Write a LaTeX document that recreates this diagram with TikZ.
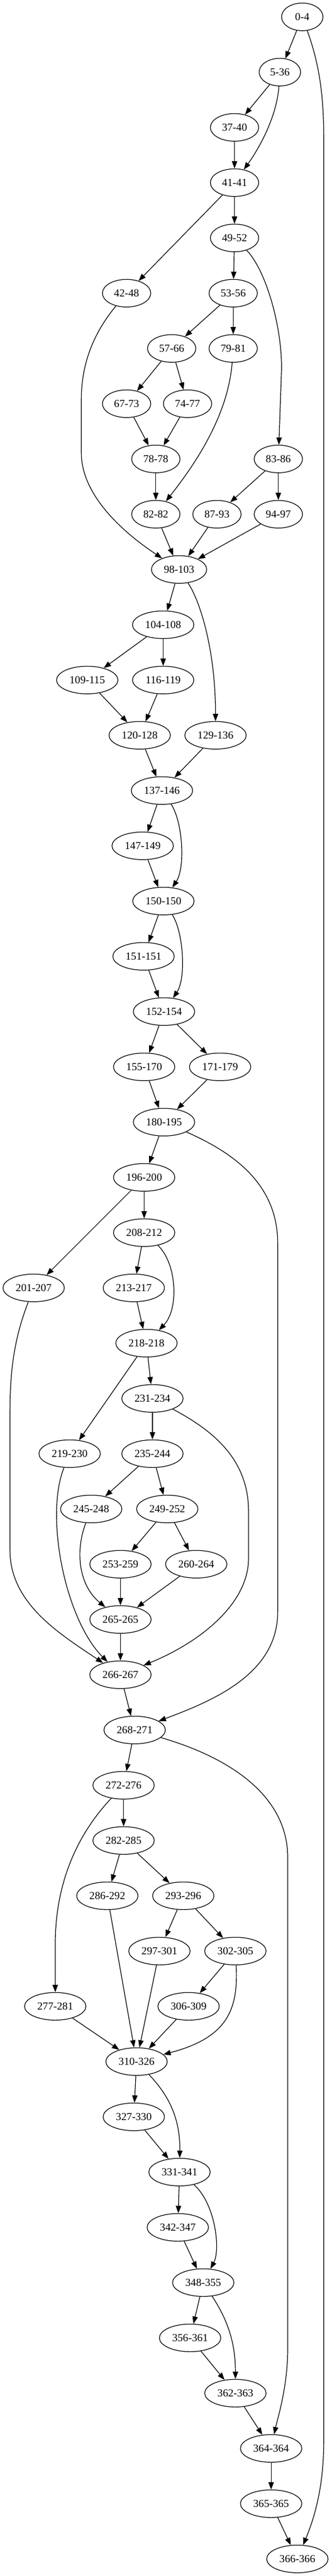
\documentclass[tikz,border=0pt]{standalone}
\usepackage{fontspec}
\setmainfont{Liberation Serif}
\usetikzlibrary{shapes.geometric,arrows.meta}
\tikzset{
  gnode/.style={draw, ellipse, line width=0.9pt, minimum height=36pt, inner sep=0pt, font=\fontsize{14pt}{16pt}\selectfont},
  wa/.style={gnode, minimum width=54pt},
  wb/.style={gnode, minimum width=63pt},
  wc/.style={gnode, minimum width=72pt},
  wd/.style={gnode, minimum width=80pt},
  edge/.style={line width=0.9pt, -{Triangle[length=9.5pt,width=7pt]}},
}
\begin{document}
\begin{tikzpicture}[x=1pt,y=-1pt]
\useasboundingbox (0,0) rectangle (432.75,3356.25);
% nodes
\node[wa] (n0) at (394,22) {0-4};
\node[wa] (n5) at (364.8,94) {5-36};
\node[wb] (n37) at (305.7,166) {37-40};
\node[wb] (n41) at (305.7,238) {41-41};
\node[wb] (n49) at (305.7,310) {49-52};
\node[wb] (n42) at (165,382) {42-48};
\node[wb] (n53) at (304,382) {53-56};
\node[wb] (n57) at (223.8,454) {57-66};
\node[wb] (n79) at (304,454) {79-81};
\node[wb] (n67) at (165,526) {67-73};
\node[wb] (n74) at (244.5,526) {74-77};
\node[wb] (n78) at (203.1,598) {78-78};
\node[wb] (n83) at (362.8,598) {83-86};
\node[wb] (n82) at (203.1,670) {82-82};
\node[wb] (n87) at (282.8,670) {87-93};
\node[wb] (n94) at (362.8,670) {94-97};
\node[wc] (n98) at (233.4,742) {98-103};
\node[wd] (n104) at (212.7,814) {104-108};
\node[wd] (n109) at (113.7,886) {109-115};
\node[wd] (n116) at (212.7,886) {116-119};
\node[wd] (n120) at (182.1,958) {120-128};
\node[wd] (n129) at (280.9,958) {129-136};
\node[wd] (n137) at (211.1,1030) {137-146};
\node[wd] (n147) at (186,1102) {147-149};
\node[wd] (n150) at (213,1174) {150-150};
\node[wd] (n151) at (187.1,1246) {151-151};
\node[wd] (n152) at (213.8,1318) {152-154};
\node[wd] (n155) at (187.9,1390) {155-170};
\node[wd] (n171) at (286.9,1390) {171-179};
\node[wd] (n180) at (213.8,1462) {180-195};
\node[wd] (n196) at (187.9,1534) {196-200};
\node[wd] (n208) at (187.9,1606) {208-212};
\node[wd] (n201) at (43.9,1678) {201-207};
\node[wd] (n213) at (174.4,1678) {213-217};
\node[wd] (n218) at (190.9,1750) {218-218};
\node[wd] (n231) at (198.7,1822) {231-234};
\node[wd] (n219) at (90.8,1894) {219-230};
\node[wd] (n235) at (198.7,1894) {235-244};
\node[wd] (n245) at (118.9,1966) {245-248};
\node[wd] (n249) at (218,1966) {249-252};
\node[wd] (n253) at (157,2038) {253-259};
\node[wd] (n260) at (255.8,2038) {260-264};
\node[wd] (n265) at (157,2110) {265-265};
\node[wd] (n266) at (157,2182) {266-267};
\node[wd] (n268) at (175.5,2254) {268-271};
\node[wd] (n272) at (161.1,2326) {272-276};
\node[wd] (n282) at (161.1,2398) {282-285};
\node[wd] (n286) at (139.9,2470) {286-292};
\node[wd] (n293) at (238.9,2470) {293-296};
\node[wd] (n297) at (207.8,2542) {297-301};
\node[wd] (n302) at (306.8,2542) {302-305};
\node[wd] (n277) at (72,2614) {277-281};
\node[wd] (n306) at (245.8,2614) {306-309};
\node[wd] (n310) at (178,2686) {310-326};
\node[wd] (n327) at (174.4,2758) {327-330};
\node[wd] (n331) at (234,2830) {331-341};
\node[wd] (n342) at (231.8,2902) {342-347};
\node[wd] (n348) at (264.9,2974) {348-355};
\node[wd] (n356) at (247.8,3046) {356-361};
\node[wd] (n362) at (306.8,3118) {362-363};
\node[wd] (n364) at (353.4,3190) {364-364};
\node[wd] (n365) at (353.4,3262) {365-365};
\node[wd] (n366) at (387.6,3334) {366-366};
% straight edges
\foreach \a/\b in {n0/n5, n5/n37, n37/n41, n41/n42, n41/n49, n49/n53, n53/n57, n53/n79,
  n57/n67, n57/n74, n67/n78, n74/n78, n78/n82, n83/n87, n83/n94, n82/n98, n87/n98, n94/n98,
  n98/n104, n104/n109, n104/n116, n109/n120, n116/n120, n120/n137, n129/n137, n137/n147,
  n147/n150, n150/n151, n151/n152, n152/n155, n152/n171, n155/n180, n171/n180, n180/n196,
  n196/n201, n196/n208, n208/n213, n213/n218, n218/n219, n218/n231, n231/n235, n235/n245,
  n235/n249, n249/n253, n249/n260, n253/n265, n260/n265, n265/n266, n266/n268, n268/n272,
  n272/n282, n282/n286, n282/n293, n293/n297, n293/n302, n302/n306, n277/n310, n286/n310,
  n297/n310, n306/n310, n310/n327, n327/n331, n331/n342, n342/n348, n348/n356, n356/n362,
  n362/n364, n364/n365, n365/n366}
  \draw[edge] (\a) -- (\b);
% curved edges
\draw[edge] (n0) .. controls (415,80) and (422,120) .. (422,180) -- (422,3180) .. controls (422,3240) and (410,3280) .. (n366);
\draw[edge] (n5) .. controls (361,150) and (340,190) .. (n41);
\draw[edge] (n49) .. controls (345,350) and (367,420) .. (367,480) -- (n83);
\draw[edge] (n79) .. controls (297,545) and (250,610) .. (n82);
\draw[edge] (n42) .. controls (125,430) and (106,470) .. (106,520) -- (106,590) .. controls (106,650) and (170,700) .. (n98);
\draw[edge] (n98) .. controls (262,785) and (281,850) .. (n129);
\draw[edge] (n137) .. controls (238,1070) and (242,1130) .. (n150);
\draw[edge] (n150) .. controls (239,1214) and (243,1274) .. (n152);
\draw[edge] (n208) .. controls (230,1645) and (234,1705) .. (n218);
\draw[edge] (n180) .. controls (300,1500) and (362,1540) .. (362,1620) -- (362,2100) .. controls (362,2180) and (280,2215) .. (n268);
\draw[edge] (n201) .. controls (20,1740) and (13,1780) .. (13,1840) -- (13,2020) .. controls (13,2090) and (80,2130) .. (n266);
\draw[edge] (n219) .. controls (58,1975) and (85,2110) .. (n266);
\draw[edge] (n231) .. controls (290,1870) and (324,1910) .. (324,1970) -- (324,2030) .. controls (324,2090) and (260,2140) .. (n266);
\draw[edge] (n245) .. controls (98,2020) and (102,2065) .. (n265);
\draw[edge] (n268) .. controls (300,2290) and (375,2340) .. (375,2420) -- (375,3060) .. controls (375,3110) and (362,3150) .. (n364);
\draw[edge] (n272) .. controls (110,2380) and (73,2440) .. (72,2530) -- (n277);
\draw[edge] (n302) .. controls (311,2620) and (295,2655) .. (n310);
\draw[edge] (n310) .. controls (220,2730) and (235,2760) .. (n331);
\draw[edge] (n331) .. controls (280,2870) and (288,2930) .. (n348);
\draw[edge] (n348) .. controls (295,3020) and (307,3050) .. (n362);
\end{tikzpicture}
\end{document}
